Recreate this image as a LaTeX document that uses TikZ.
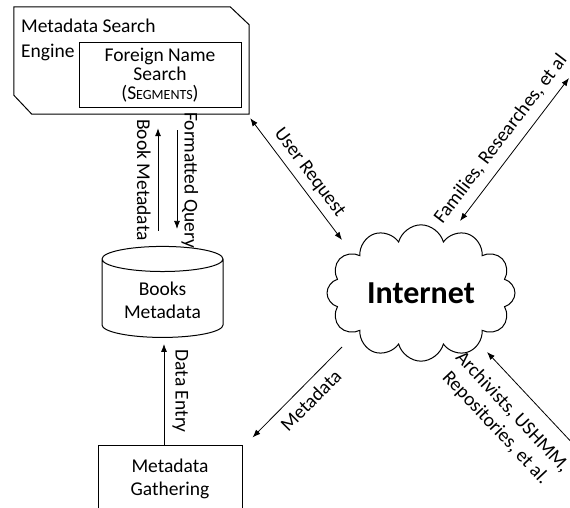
\documentclass[tikz,border=0pt]{standalone}
\usepackage{fontspec}
\setmainfont{Carlito}
\usetikzlibrary{shapes.geometric, shapes.symbols, arrows.meta, positioning}

\begin{document}
\begin{tikzpicture}[
    x=1pt, y=1pt,
    font=\fontsize{19.5}{23}\selectfont,
    box/.style={rectangle, draw, line width=1pt, align=center},
    store/.style={cylinder, draw, line width=1pt, shape border rotate=90, aspect=0.3, align=center},
    net/.style={cloud, draw, cloud puffs=12, aspect=1.5, line width=1pt},
    arrow/.style={-{Latex[length=8pt,width=6pt]}, line width=0.8pt},
    both/.style={{Latex[length=8pt,width=6pt]}-{Latex[length=8pt,width=6pt]}, line width=0.8pt},
    lbl/.style={inner sep=#1},
    lbl/.default=3pt
  ]
    \clip (0,0) rectangle (570,-508);

    % search engine, frame cut at two corners
    \node[minimum width=235pt, minimum height=107pt] (engine) at (131.5,-60.5) {};
    \draw[line width=1pt] (engine.north west) -- ([xshift=-19pt]engine.north east)
      -- ([yshift=-18pt]engine.north east) -- (engine.south east)
      -- ([xshift=18pt]engine.south west) -- ([yshift=19pt]engine.south west) -- cycle;
    \node[anchor=north west, align=left, inner sep=0pt, font=\fontsize{19.5}{25}\selectfont] (enginetxt) at (21,-19)
      {Metadata Search\\Engine};
    \node[box, minimum width=162pt, minimum height=65pt, font=\fontsize{19.5}{19}\selectfont] (fns) at (160,-75.5)
      {Foreign Name\\Search\\(S{\fontsize{14}{14}\selectfont EGMENTS})};

    \node[store, minimum width=121pt, minimum height=91pt] (books) at (162.5,-300.5) {Books\\Metadata};
    \node[box, minimum width=144pt, minimum height=68pt] (gather) at (170,-479) {Metadata\\Gathering};
    \node[net, minimum width=188pt, minimum height=130pt, font=\fontsize{32}{32}\selectfont\bfseries] (inet) at (421,-293) {Internet};

    \coordinate (famend) at (569,-78);
    \coordinate (archend) at (576,-447);

    % engine <-> books
    \draw[arrow, shorten <=15pt, shorten >=14pt] ([xshift=-4.5pt]books.north) -- ([xshift=-4.5pt]books.north |- engine.south)
      node[midway, rotate=-90, anchor=north, lbl=7pt] {Book Metadata};
    \draw[arrow, shorten <=16pt, shorten >=17pt] ([xshift=14.5pt]books.north |- engine.south) -- ([xshift=14.5pt]books.north)
      node[midway, rotate=-90, anchor=south, lbl=4pt] {Formatted Query};
    \draw[arrow, shorten >=6pt] ([xshift=1.5pt]books.south |- gather.north) -- ([xshift=1.5pt]books.south)
      node[midway, rotate=-90, anchor=south, lbl=8pt] {Data Entry};

    % internet links
    \draw[both] ([shift={(1pt,-4pt)}]engine.south east) -- ([shift={(-79pt,53pt)}]inet.center)
      node[pos=0.52, sloped, above, lbl=6pt] {User Request};
    \draw[both] ([shift={(39pt,72pt)}]inet.center) -- (famend)
      node[pos=0.5, sloped, above, lbl=9pt] {Families, Researches, et al};
    \draw[arrow] ([shift={(-79pt,-54pt)}]inet.center) -- ([shift={(10pt,7pt)}]gather.north east)
      node[pos=0.47, sloped, below, lbl=8pt] {Metadata};
    \draw[arrow] (archend) -- ([shift={(66pt,-59pt)}]inet.center)
      node[pos=0.53, sloped, below, align=center, lbl=14pt] {Archivists, USHMM,\\Repositories, et al.};
  \end{tikzpicture}
\end{document}
